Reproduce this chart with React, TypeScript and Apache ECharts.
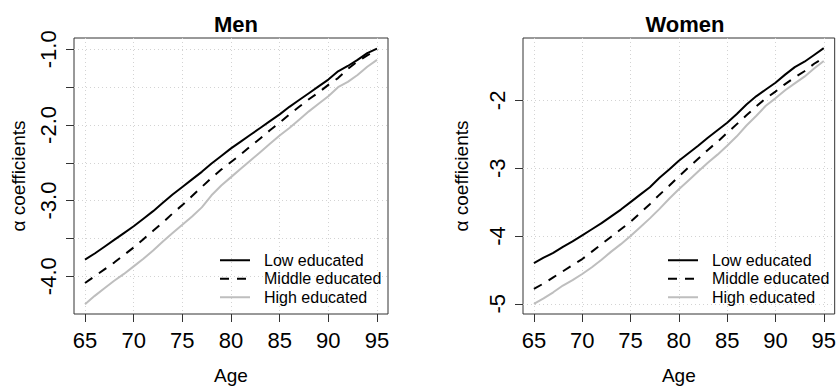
import React, { useEffect, useRef } from "react";
import * as echarts from "echarts";

const AGES = [65,66,67,68,69,70,71,72,73,74,75,76,77,78,79,80,81,82,83,84,85,86,87,88,89,90,91,92,93,94,95];

const MEN_LOW = [-3.78,-3.70,-3.61,-3.52,-3.43,-3.34,-3.24,-3.14,-3.03,-2.92,-2.82,-2.72,-2.62,-2.51,-2.41,-2.31,-2.22,-2.13,-2.04,-1.95,-1.86,-1.76,-1.67,-1.58,-1.49,-1.40,-1.29,-1.22,-1.14,-1.05,-0.99];
const MEN_MIDDLE = [-4.09,-4.00,-3.91,-3.82,-3.72,-3.62,-3.51,-3.40,-3.29,-3.17,-3.06,-2.94,-2.82,-2.70,-2.59,-2.49,-2.39,-2.28,-2.18,-2.07,-1.97,-1.86,-1.76,-1.66,-1.57,-1.47,-1.38,-1.26,-1.16,-1.08,-1.01];
const MEN_HIGH = [-4.37,-4.26,-4.16,-4.06,-3.97,-3.87,-3.77,-3.66,-3.54,-3.43,-3.32,-3.21,-3.09,-2.93,-2.80,-2.69,-2.58,-2.47,-2.36,-2.25,-2.14,-2.04,-1.93,-1.82,-1.72,-1.62,-1.50,-1.43,-1.34,-1.23,-1.14];

const WOMEN_LOW = [-4.40,-4.32,-4.25,-4.16,-4.08,-3.99,-3.90,-3.81,-3.71,-3.61,-3.50,-3.39,-3.28,-3.14,-3.02,-2.89,-2.78,-2.67,-2.55,-2.44,-2.33,-2.20,-2.06,-1.94,-1.84,-1.74,-1.62,-1.51,-1.43,-1.33,-1.23];
const WOMEN_MIDDLE = [-4.78,-4.70,-4.61,-4.52,-4.43,-4.34,-4.23,-4.12,-4.01,-3.90,-3.79,-3.66,-3.53,-3.39,-3.26,-3.12,-2.99,-2.86,-2.73,-2.61,-2.48,-2.35,-2.22,-2.09,-1.97,-1.87,-1.76,-1.66,-1.57,-1.46,-1.37];
const WOMEN_HIGH = [-5.00,-4.92,-4.83,-4.73,-4.65,-4.56,-4.46,-4.35,-4.23,-4.12,-4.00,-3.87,-3.74,-3.60,-3.45,-3.31,-3.18,-3.05,-2.92,-2.80,-2.67,-2.53,-2.37,-2.23,-2.08,-1.97,-1.85,-1.75,-1.65,-1.53,-1.42];

const AGE_TICKS = [65, 70, 75, 80, 85, 90, 95];
const MEN_Y_TICKS = [-4, -3.5, -3, -2.5, -2, -1.5, -1];
const MEN_Y_LABELS = [-4, -3, -2, -1];
const WOMEN_Y_TICKS = [-5, -4, -3, -2];

const SERIES_NAMES = ["Low educated", "Middle educated", "High educated"];
const PANEL_TITLES = ["Men", "Women"];

const FONT = "'Liberation Sans', Arial, Helvetica, sans-serif";

function pairs(vals: number[]) {
  return AGES.map((a, i) => [a, vals[i]]);
}

export default function App() {
  const ref = useRef<HTMLDivElement>(null);
  useEffect(() => {
    if (!ref.current) return;
    const chart = echarts.init(ref.current, undefined, { renderer: "svg" });
    const gridLine = { show: true, lineStyle: { color: "#d3d3d3", type: [1, 3] as any, width: 1 } };
    const xAxisBase = (gi: number) => ({
      gridIndex: gi,
      type: "value",
      min: 63.87,
      max: 96.13,
      axisLine: { show: false },
      axisTick: { show: true, customValues: AGE_TICKS, length: 8, lineStyle: { color: "#333" } },
      axisLabel: { customValues: AGE_TICKS, fontSize: 22, color: "#000", margin: 15, fontFamily: FONT },
      splitLine: { ...gridLine, customValues: AGE_TICKS },
      name: "Age",
      nameLocation: "middle",
      nameGap: 52,
      nameTextStyle: { fontSize: 19, color: "#000", fontFamily: FONT },
    });
    const lineStyles = [
      { color: "#000", width: 2, type: "solid" },
      { color: "#000", width: 2, type: [9, 8] },
      { color: "#bebebe", width: 2, type: "solid" },
    ];
    const mk = (name: string, vals: number[], gi: number, k: number) => ({
      name,
      type: "line",
      xAxisIndex: gi,
      yAxisIndex: gi,
      data: pairs(vals),
      symbol: "none",
      showSymbol: false,
      lineStyle: lineStyles[k],
      itemStyle: { color: lineStyles[k].color },
      emphasis: { disabled: true },
    });
    const legendBase = (left: number) => ({
      orient: "vertical",
      left,
      top: 251,
      padding: 0,
      itemGap: 0,
      itemWidth: 30,
      itemHeight: 14,
      data: SERIES_NAMES,
      itemStyle: { opacity: 0, borderWidth: 0 },
      textStyle: { fontSize: 16, color: "#000", fontFamily: FONT, lineHeight: 18.5, padding: [0, 0, 0, 9] },
      selectedMode: false,
    });
    chart.setOption({
      animation: false,
      textStyle: { fontFamily: FONT },
      title: [
        { text: PANEL_TITLES[0], left: 231, top: 8, textAlign: "center", textStyle: { fontSize: 22, fontWeight: "bold", color: "#000", fontFamily: FONT } },
        { text: PANEL_TITLES[1], left: 680, top: 8, textAlign: "center", textStyle: { fontSize: 22, fontWeight: "bold", color: "#000", fontFamily: FONT } },
      ],
      legend: [legendBase(219), legendBase(667)],
      grid: [
        { left: 74, top: 38, width: 314, height: 277, show: true, borderColor: "#333", borderWidth: 1, backgroundColor: "transparent" },
        { left: 523, top: 38, width: 314, height: 277, show: true, borderColor: "#333", borderWidth: 1, backgroundColor: "transparent" },
      ],
      xAxis: [xAxisBase(0), xAxisBase(1)],
      yAxis: [
        {
          gridIndex: 0,
          type: "value",
          min: -4.5,
          max: -0.85,
          axisLine: { show: false },
          axisTick: { show: true, customValues: MEN_Y_TICKS, length: 8, lineStyle: { color: "#333" } },
          axisLabel: { customValues: MEN_Y_LABELS, rotate: 90, fontSize: 22, color: "#000", margin: 15, fontFamily: FONT, formatter: (v: number) => v.toFixed(1) },
          splitLine: { ...gridLine, customValues: MEN_Y_TICKS },
          name: "α coefficients",
          nameLocation: "middle",
          nameGap: 46,
          nameTextStyle: { fontSize: 19, color: "#000", fontFamily: FONT },
        },
        {
          gridIndex: 1,
          type: "value",
          min: -5.15,
          max: -1.08,
          axisLine: { show: false },
          axisTick: { show: true, customValues: WOMEN_Y_TICKS, length: 8, lineStyle: { color: "#333" } },
          axisLabel: { customValues: WOMEN_Y_TICKS, rotate: 90, fontSize: 22, color: "#000", margin: 15, fontFamily: FONT, formatter: (v: number) => v.toFixed(0) },
          splitLine: { ...gridLine, customValues: WOMEN_Y_TICKS },
          name: "α coefficients",
          nameLocation: "middle",
          nameGap: 52,
          nameTextStyle: { fontSize: 19, color: "#000", fontFamily: FONT },
        },
      ],
      series: [
        mk(SERIES_NAMES[0], MEN_LOW, 0, 0),
        mk(SERIES_NAMES[1], MEN_MIDDLE, 0, 1),
        mk(SERIES_NAMES[2], MEN_HIGH, 0, 2),
        mk(SERIES_NAMES[0], WOMEN_LOW, 1, 0),
        mk(SERIES_NAMES[1], WOMEN_MIDDLE, 1, 1),
        mk(SERIES_NAMES[2], WOMEN_HIGH, 1, 2),
      ],
    });
    return () => chart.dispose();
  }, []);
  return <div ref={ref} style={{ position: "absolute", left: 0, top: 0, width: 839, height: 390, background: "#fff" }} />;
}
